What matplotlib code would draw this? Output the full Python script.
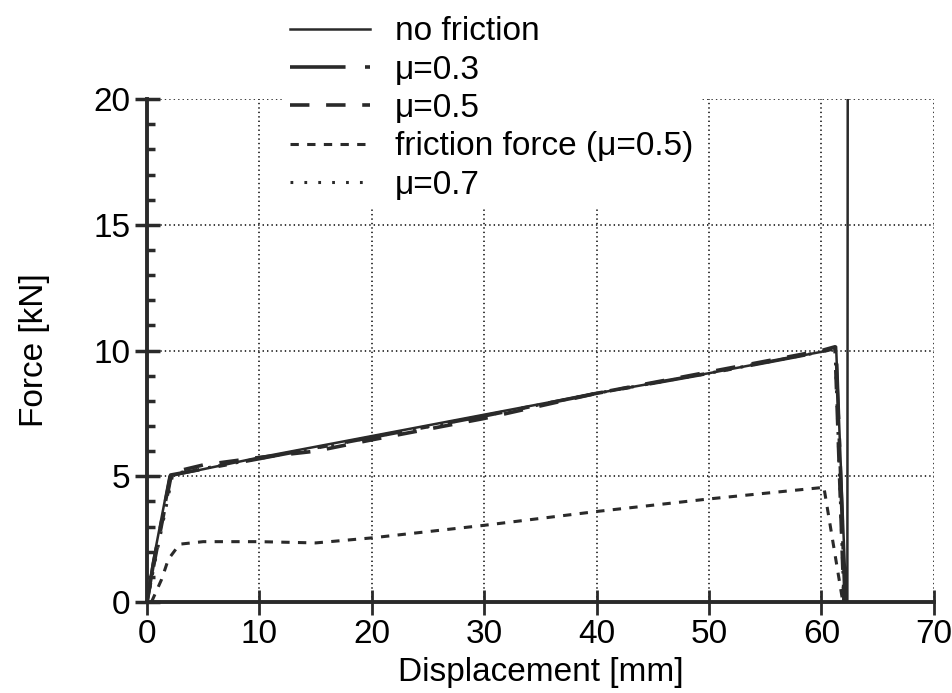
import matplotlib.pyplot as plt
from matplotlib.ticker import MultipleLocator

plt.rcParams["font.family"] = ["Liberation Sans", "DejaVu Sans"]
plt.rcParams["lines.scale_dashes"] = False

# curves (displacement in mm, force in kN)
x_nofric = [0, 0.5, 2.0, 10, 20, 30, 40, 50, 60, 61.3, 62.2, 62.3, 62.35]
y_nofric = [0, 1.5, 5.0, 5.75, 6.6, 7.45, 8.3, 9.1, 9.95, 10.15, 0.0, 0.0, 30.0]

x_mu03 = [0, 0.6, 2.1, 10, 20, 30, 40, 50, 60, 61.3, 62.1]
y_mu03 = [0, 1.6, 5.05, 5.7, 6.55, 7.4, 8.3, 9.1, 9.95, 10.1, 0.0]

x_mu05 = [0, 0.7, 2.2, 5, 10, 15, 20, 30, 40, 50, 60, 61.2, 62.0]
y_mu05 = [0, 1.7, 5.15, 5.45, 5.75, 6.0, 6.45, 7.3, 8.3, 9.15, 10.0, 10.15, 0.0]

x_ffric = [0.4, 1.3, 1.9, 2.9, 5, 10, 15, 20, 30, 40, 50, 60, 60.2, 61.9]
y_ffric = [0, 0.9, 1.7, 2.3, 2.4, 2.4, 2.35, 2.55, 3.05, 3.6, 4.1, 4.55, 4.6, 0.0]

x_mu07 = [0, 0.8, 2.3, 10, 20, 30, 40, 50, 60, 61.2, 62.0]
y_mu07 = [0, 1.8, 5.1, 5.7, 6.55, 7.4, 8.3, 9.1, 9.95, 10.1, 0.0]

ink = "#2a2a2a"
fs = 24

fig = plt.figure(figsize=(9.52, 6.93), dpi=100)
ax = fig.add_axes([0.1544, 0.1313, 0.8266, 0.7257])

l1, = ax.plot(x_nofric, y_nofric, color=ink, lw=1.8, label="no friction")
l2, = ax.plot(x_mu03, y_mu03, color=ink, lw=2.6, ls=(0, (40, 14, 6, 14)), label="μ=0.3")
l3, = ax.plot(x_mu05, y_mu05, color=ink, lw=2.6, ls=(0, (14, 12)), label="μ=0.5")
l4, = ax.plot(x_ffric, y_ffric, color=ink, lw=2.2, ls=(0, (6, 6)), label="friction force (μ=0.5)")
l5, = ax.plot(x_mu07, y_mu07, color=ink, lw=2.2, ls=(0, (2, 8)), label="μ=0.7")

ax.set_xlim(0, 70)
ax.set_ylim(0, 20)
ax.xaxis.set_major_locator(MultipleLocator(10))
ax.yaxis.set_major_locator(MultipleLocator(5))
ax.yaxis.set_minor_locator(MultipleLocator(1))

for s in ["top", "right"]:
    ax.spines[s].set_visible(False)
for s in ["left", "bottom"]:
    ax.spines[s].set_linewidth(2.8)
    ax.spines[s].set_color(ink)

ax.grid(True, which="major", color=ink, lw=1.3, ls=(0, (1, 2.2)))
ax.set_axisbelow(False)

ax.tick_params(axis="x", which="major", direction="inout", length=18, width=2,
               color=ink, labelsize=fs, pad=3)
ax.tick_params(axis="y", which="major", direction="inout", length=18, width=2.5,
               color=ink, labelsize=fs, pad=3)
ax.tick_params(axis="y", which="minor", direction="in", length=6, width=2.5, color=ink)

ax.set_xlabel("Displacement [mm]", fontsize=fs, labelpad=5)
ax.set_ylabel("Force [kN]", fontsize=fs, labelpad=31)

leg = fig.legend(handles=[l1, l2, l3, l4, l5], loc="upper left",
                 bbox_to_anchor=(0.28, 1.01), fontsize=fs, frameon=True,
                 handlelength=2.4, handletextpad=0.75, labelspacing=0.22,
                 borderpad=0.2, fancybox=False)
leg.get_frame().set_facecolor("white")
leg.get_frame().set_edgecolor("none")
leg.get_frame().set_alpha(1)

fig.savefig("out.png", dpi=100)
